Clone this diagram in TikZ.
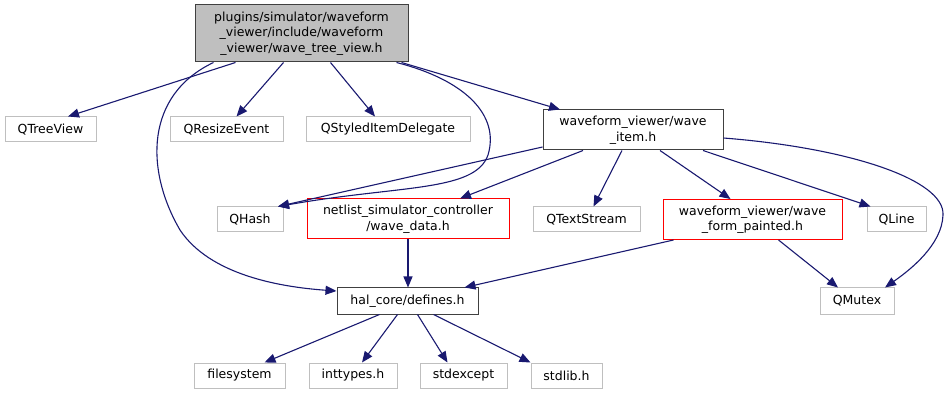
\documentclass[tikz,border=0pt]{standalone}
\usepackage{fontspec}
\setmainfont{DejaVu Sans}
\usetikzlibrary{arrows.meta}
\definecolor{edgeblue}{HTML}{191970}
\definecolor{extgray}{HTML}{BFBFBF}
\definecolor{intdark}{HTML}{404040}
\definecolor{rootfill}{HTML}{BFBFBF}
\definecolor{missred}{HTML}{FF0000}
\begin{document}
\begin{tikzpicture}[x=1pt,y=-1pt,
  box/.style={rectangle, inner sep=0pt, align=center, line width=1pt,
    font=\fontsize{12.5}{15.5}\selectfont},
  extbox/.style={box, draw=extgray},
  intbox/.style={box, draw=intdark},
  missbox/.style={box, draw=missred},
  rootbox/.style={box, draw=intdark, fill=rootfill},
  dep/.style={draw=edgeblue, line width=1.1pt, -{Triangle[length=11pt,width=9pt]}}]
\useasboundingbox (0,0) rectangle (950,395);

\node[rootbox, minimum width=213pt, minimum height=57pt] (root) at (301.5,33.5)
  {plugins/simulator/waveform\\\_viewer/include/waveform\\\_viewer/wave\_tree\_view.h};
\node[extbox, minimum width=91pt, minimum height=25pt] (qtree) at (50.5,129.5) {QTreeView};
\node[extbox, minimum width=113pt, minimum height=25pt] (qresize) at (226.5,129.5) {QResizeEvent};
\node[extbox, minimum width=164pt, minimum height=25pt] (qstyled) at (388,129.5) {QStyledItemDelegate};
\node[intbox, minimum width=180pt, minimum height=40pt] (waveitem) at (633,130) {waveform\_viewer/wave\\\_item.h};
\node[extbox, minimum width=66pt, minimum height=25pt] (qhash) at (250,219.5) {QHash};
\node[missbox, minimum width=202pt, minimum height=40pt] (wavedata) at (408,219) {netlist\_simulator\_controller\\/wave\_data.h};
\node[extbox, minimum width=107pt, minimum height=25pt] (qtext) at (586.5,219.5) {QTextStream};
\node[missbox, minimum width=179pt, minimum height=40pt] (painted) at (752.5,219.5) {waveform\_viewer/wave\\\_form\_painted.h};
\node[extbox, minimum width=59pt, minimum height=25pt] (qline) at (896.5,219.5) {QLine};
\node[extbox, minimum width=74pt, minimum height=26pt] (qmutex) at (857,301) {QMutex};
\node[intbox, minimum width=141pt, minimum height=26pt] (defines) at (407.5,301) {hal\_core/defines.h};
\node[extbox, minimum width=91pt, minimum height=25pt] (filesystem) at (239.5,375.5) {filesystem};
\node[extbox, minimum width=88pt, minimum height=25pt] (inttypes) at (353,375.5) {inttypes.h};
\node[extbox, minimum width=87pt, minimum height=25pt] (stdexcept) at (463.5,375.5) {stdexcept};
\node[extbox, minimum width=71pt, minimum height=25pt] (stdlib) at (566.5,375.5) {stdlib.h};

% root edges
\draw[dep] ([xshift=-66pt]root.south) -- ([xshift=17.5pt]qtree.north);
\draw[dep] ([xshift=-18pt]root.south) -- ([xshift=10pt]qresize.north);
\draw[dep] ([xshift=29pt]root.south) -- ([xshift=-13pt]qstyled.north);
\draw[dep] ([xshift=100pt]root.south) -- ([xshift=-73pt]waveitem.north);
\draw[dep] ([xshift=95pt]root.south) .. controls (465,80) and (500,115) .. (488,155)
  .. controls (475,192) and (400,185) .. ([xshift=28pt]qhash.north);
\draw[dep] ([xshift=-88pt]root.south) .. controls (145,95) and (145,170) .. (180,230)
  .. controls (210,275) and (280,287) .. ([yshift=10pt]defines.west);

% wave_item edges
\draw[dep] ([yshift=-17pt]waveitem.west) -- ([xshift=28pt]qhash.north);
\draw[dep] ([xshift=-50pt]waveitem.south) -- ([xshift=52pt]wavedata.north);
\draw[dep] ([xshift=-11pt]waveitem.south) -- ([xshift=7pt]qtext.north);
\draw[dep] ([xshift=27pt]waveitem.south) -- ([xshift=-22pt]painted.north);
\draw[dep] ([xshift=70pt]waveitem.south) -- ([xshift=-26pt]qline.north);
\draw[dep] ([yshift=-8pt]waveitem.east) .. controls (850,148) and (945,180) .. (943,215)
  .. controls (942,245) and (910,270) .. ([xshift=28pt]qmutex.north);

% second level
\draw[dep] (wavedata.south) -- (wavedata.south |- defines.north);
\draw[dep] ([xshift=-79pt]painted.south) -- ([xshift=57pt]defines.north);
\draw[dep] ([xshift=26pt]painted.south) -- ([xshift=-19pt]qmutex.north);

% defines edges
\draw[dep] ([xshift=-28pt]defines.south) -- ([xshift=25pt]filesystem.north);
\draw[dep] ([xshift=-10pt]defines.south) -- ([xshift=9pt]inttypes.north);
\draw[dep] ([xshift=10pt]defines.south) -- ([xshift=-16pt]stdexcept.north);
\draw[dep] ([xshift=26pt]defines.south) -- ([xshift=-36pt]stdlib.north);
\end{tikzpicture}
\end{document}
